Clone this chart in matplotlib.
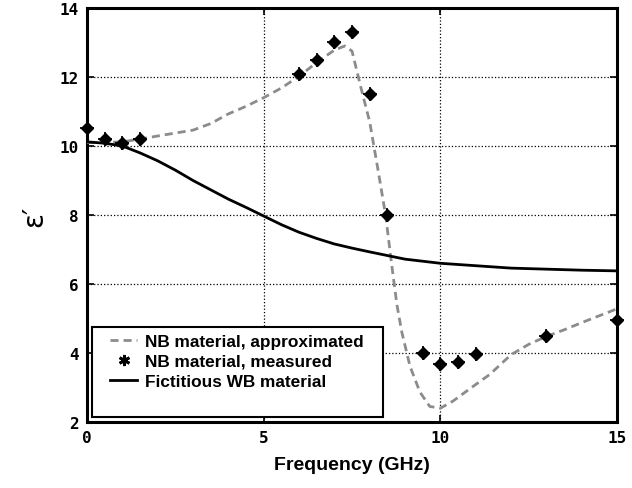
import matplotlib
matplotlib.use("Agg")
import matplotlib.pyplot as plt
from matplotlib.lines import Line2D
from matplotlib.patches import Rectangle

# Measured NB material points
meas_f = [0.0, 0.5, 1.0, 1.5, 6.0, 6.5, 7.0, 7.5, 8.0, 8.5, 9.5, 10.0, 10.5, 11.0, 13.0, 15.0]
meas_e = [10.52, 10.2, 10.1, 10.2, 12.1, 12.5, 13.02, 13.3, 11.5, 8.0, 4.0, 3.67, 3.75, 3.98, 4.48, 4.97]

# Approximated NB curve
appr_f = [0.0, 0.5, 1.0, 1.5, 2.0, 3.0, 3.5, 4.0, 4.5, 5.0, 5.5, 6.0, 6.5, 7.0, 7.3, 7.5,
          7.75, 8.0, 8.22, 8.45, 8.63, 8.77, 8.91, 9.14, 9.42, 9.7, 10.0, 10.35, 10.83,
          11.4, 12.0, 12.5, 13.0, 13.5, 14.0, 14.5, 15.0]
appr_e = [10.1, 10.1, 10.12, 10.2, 10.29, 10.46, 10.65, 10.93, 11.15, 11.4, 11.68, 12.02, 12.42,
          12.78, 12.9, 12.75, 11.7, 10.7, 9.4, 8.0, 6.5, 5.4, 4.6, 3.62, 2.87, 2.45, 2.4,
          2.6, 2.96, 3.38, 3.95, 4.25, 4.48, 4.67, 4.88, 5.08, 5.28]

# Fictitious WB material
wb_f = [0, 0.5, 1, 1.5, 2, 2.5, 3, 3.5, 4, 4.5, 5, 5.5, 6, 6.5, 7, 7.5, 8, 9, 10, 11, 12, 13, 14, 15]
wb_e = [10.12, 10.08, 10.0, 9.8, 9.57, 9.3, 9.0, 8.73, 8.46, 8.22, 7.97, 7.72, 7.5, 7.32, 7.16,
        7.04, 6.93, 6.72, 6.6, 6.53, 6.46, 6.43, 6.4, 6.38]

x_ticks = [0, 5, 10, 15]
y_ticks = [2, 4, 6, 8, 10, 12, 14]

DASH = (0, (2.9, 1.8))
GREY = "#8c8c8c"

fig = plt.figure(figsize=(6.32, 4.89), dpi=100)
ax = fig.add_axes([0.1377, 0.135, 0.8386, 0.8466])

ax.plot(appr_f, appr_e, color=GREY, lw=2.0, ls=DASH, zorder=3)
ax.plot(wb_f, wb_e, color="black", lw=2.0, zorder=3)
ax.plot(meas_f, meas_e, ls="none", marker="D", ms=6.5, color="black", zorder=4, clip_on=False)
ax.plot(meas_f, meas_e, ls="none", marker="+", ms=10, mew=1.3, color="black", zorder=4, clip_on=False)

ax.set_xlim(0, 15)
ax.set_ylim(2, 14)
ax.set_xticks(x_ticks)
ax.set_yticks(y_ticks)
ax.grid(True, ls=":", lw=0.9, color="black")
ax.tick_params(direction="in", length=5, width=1.2, top=True, right=True, pad=6)
for lab in ax.get_xticklabels() + ax.get_yticklabels():
    lab.set_family("DejaVu Sans Mono")
    lab.set_fontweight("bold")
    lab.set_fontsize(11.5)
for s in ax.spines.values():
    s.set_linewidth(2.2)

ax.set_xlabel("Frequency (GHz)", family="Liberation Sans", fontweight="bold", fontsize=14, labelpad=8)
ax.set_ylabel("ε′", fontsize=20, labelpad=8)

# legend frame drawn as a rectangle in axes coordinates
ax.add_patch(Rectangle((0.0094, 0.012), 0.5491, 0.2175, transform=ax.transAxes,
                       facecolor="white", edgecolor="black", lw=1.5, zorder=5, clip_on=False))

handles = [
    Line2D([], [], color=GREY, lw=2.0, ls=DASH),
    Line2D([], [], ls="none", marker=(6, 2, 0), ms=8, mew=2, color="black"),
    Line2D([], [], color="black", lw=2.0),
]
labels = ["NB material, approximated", "NB material, measured", "Fictitious WB material"]
leg = ax.legend(handles, labels, loc="upper left", bbox_to_anchor=(0.0434, 0.213), borderaxespad=0,
                prop={"family": "Liberation Sans", "weight": "bold", "size": 12.4},
                handlelength=1.57, handletextpad=0.47, labelspacing=0.29, frameon=False,
                borderpad=0)
leg.set_zorder(6)

fig.savefig("out.png", dpi=100)
